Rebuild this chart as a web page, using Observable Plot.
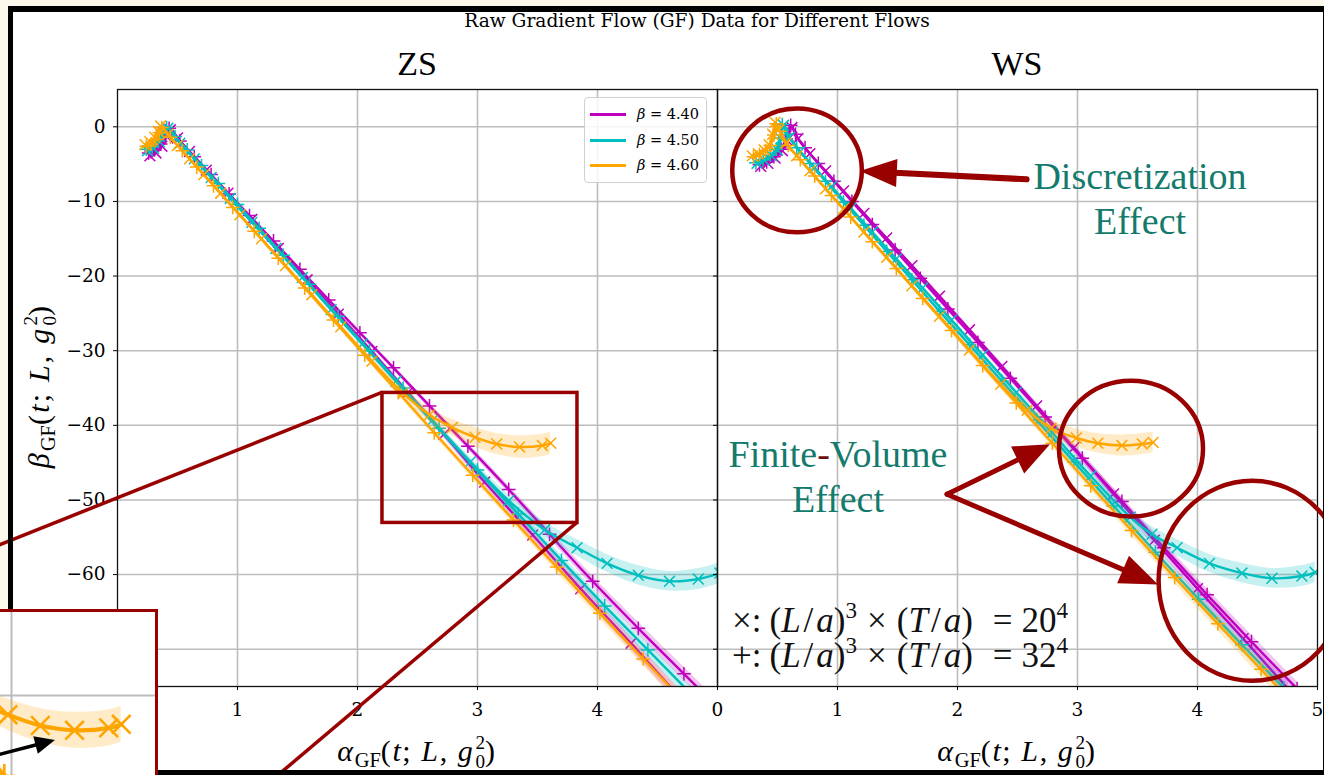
<!DOCTYPE html>
<html><head><meta charset="utf-8">
<script src="https://cdn.jsdelivr.net/npm/d3@7"></script>
<script src="https://cdn.jsdelivr.net/npm/@observablehq/plot@0.6"></script>
<style>
html,body{margin:0;padding:0;background:#fdf8ec;}
#page{position:relative;width:1324px;height:775px;overflow:hidden;background:#fdf8ec;}
#bg{position:absolute;left:8px;top:6px;width:1320px;height:769px;background:#fff;z-index:0;}
#border{position:absolute;left:8px;top:6px;width:1320px;height:769px;box-sizing:border-box;border:5px solid #000;border-top-width:6px;z-index:6;pointer-events:none;}
.txt{position:absolute;white-space:nowrap;line-height:1;z-index:4;color:#000;}
.serif{font-family:"Liberation Serif",serif;}
.m{letter-spacing:1.6px;}
.m .sb{font-size:0.68em;position:relative;top:0.26em;letter-spacing:0;}
.m .ss{display:inline-block;vertical-align:-0.36em;font-size:0.64em;line-height:1;margin-left:1px;letter-spacing:0;}
.m .ss span{display:block;}
#legend{position:absolute;left:584px;top:97px;width:123px;height:86px;box-sizing:border-box;border:1px solid #d0d0d0;border-radius:4px;background:rgba(255,255,255,0.85);z-index:4;font-family:"DejaVu Serif",serif;font-size:14.5px;}
.lrow{position:absolute;left:0;height:20px;width:120px;}
.lline{position:absolute;left:5px;width:36px;height:3px;top:9px;}
.ltext{position:absolute;left:52px;top:2px;white-space:nowrap;}
#inset{position:absolute;left:-20px;top:609px;width:178px;height:200px;box-sizing:border-box;border:3px solid #990000;background:#fff;z-index:8;overflow:hidden;}
</style></head><body>
<div id="page">
 <div id="bg"></div>
 <div id="border"></div>
 <div class="txt" id="title" style="left:697px;top:12px;transform:translateX(-50%);font-family:'DejaVu Serif',serif;font-size:18.6px;">Raw Gradient Flow (GF) Data for Different Flows</div>
 <div class="txt serif m" style="left:40px;top:386px;transform:translate(-50%,-50%) rotate(-90deg);font-size:30px;letter-spacing:2.2px;"><i>β</i><span class="sb">GF</span>(<i>t</i>; <i>L</i>, <i>g</i><span class="ss"><span>2</span><span>0</span></span>)</div>
 <div class="txt serif m" style="left:417px;top:733px;transform:translateX(-50%);font-size:30px;"><i>α</i><span class="sb">GF</span>(<i>t</i>; <i>L</i>, <i>g</i><span class="ss"><span>2</span><span>0</span></span>)</div>
 <div class="txt serif m" style="left:1017px;top:733px;transform:translateX(-50%);font-size:30px;"><i>α</i><span class="sb">GF</span>(<i>t</i>; <i>L</i>, <i>g</i><span class="ss"><span>2</span><span>0</span></span>)</div>
 <div id="legend"></div>
 <div id="inset"></div>
</div>
<script>
// ---------- data ----------
const panels = ["ZS", "WS"];
const betas = ["4.40", "4.50", "4.60"];
const volumes = ["20^4", "32^4"];
const xTicks = [0, 1, 2, 3, 4, 5];
const yTicks = [-70, -60, -50, -40, -30, -20, -10, 0];

// each point: [alpha_GF, beta_GF, error]
const zs_440_L20 = [[0.27,-3.9,0.1],[0.32,-3.5,0.1],[0.37,-2.6,0.1],[0.41,-1.3,0.1],[0.44,-0.4,0.1],[0.50,-1.5,0.1],[0.60,-3.3,0.1],[0.74,-5.8,0.15],[0.92,-8.9,0.15],[1.12,-12.4,0.2],[1.34,-16.3,0.2],[1.58,-20.5,0.25],[1.84,-25.1,0.3],[2.12,-30.1,0.35],[2.42,-35.6,0.4],[2.72,-41.2,0.5],[3.06,-47.6,0.6],[3.46,-54.7,0.7],[3.86,-61.9,0.8],[4.28,-69.2,0.9],[4.66,-76.0,1.0]];
const zs_440_L32 = [[0.26,-3.5,0.1],[0.31,-3.1,0.1],[0.36,-2.3,0.1],[0.40,-1.1,0.1],[0.43,-0.2,0.1],[0.52,-1.9,0.1],[0.64,-4.0,0.1],[0.78,-6.4,0.15],[0.93,-9.0,0.15],[1.10,-11.9,0.2],[1.30,-15.3,0.2],[1.52,-19.1,0.25],[1.76,-23.2,0.3],[2.02,-27.6,0.3],[2.30,-32.3,0.35],[2.60,-37.4,0.4],[2.92,-42.8,0.45],[3.26,-48.6,0.5],[3.60,-54.6,0.6],[3.96,-60.9,0.7],[4.34,-67.2,0.8],[4.72,-73.3,0.9],[5.05,-78.6,1.0]];
const zs_450_L20 = [[0.25,-3.2,0.1],[0.30,-2.9,0.1],[0.35,-2.0,0.1],[0.39,-0.8,0.1],[0.42,-0.2,0.1],[0.52,-2.2,0.1],[0.64,-4.3,0.1],[0.78,-6.8,0.15],[0.94,-9.6,0.15],[1.12,-12.8,0.2],[1.32,-16.3,0.2],[1.54,-20.2,0.25],[1.78,-24.5,0.3],[2.04,-29.1,0.35],[2.32,-34.1,0.4],[2.62,-39.4,0.5],[2.94,-44.9,0.6],[3.26,-50.1,0.8],[3.56,-54.0,1.0],[3.83,-56.4,1.1],[4.08,-58.5,1.2],[4.34,-60.1,1.3],[4.60,-60.9,1.3],[4.84,-60.6,1.4],[5.02,-59.8,1.4]];
const zs_450_L32 = [[0.24,-3.0,0.1],[0.29,-2.7,0.1],[0.34,-1.9,0.1],[0.38,-0.7,0.1],[0.41,-0.1,0.1],[0.48,-1.3,0.1],[0.58,-3.1,0.1],[0.70,-5.2,0.15],[0.84,-7.6,0.15],[1.00,-10.4,0.2],[1.18,-13.6,0.2],[1.38,-17.2,0.25],[1.60,-21.1,0.3],[1.84,-25.4,0.3],[2.10,-30.0,0.35],[2.38,-35.0,0.4],[2.68,-40.4,0.45],[3.00,-46.0,0.5],[3.34,-51.9,0.6],[3.70,-58.1,0.7],[4.06,-64.2,0.8],[4.42,-70.1,0.9],[4.78,-76.0,1.0]];
const zs_460_L20 = [[0.23,-2.4,0.1],[0.27,-2.0,0.1],[0.31,-1.4,0.1],[0.34,-0.6,0.1],[0.36,0.1,0.1],[0.42,-1.0,0.1],[0.50,-2.5,0.1],[0.60,-4.3,0.15],[0.72,-6.4,0.15],[0.86,-8.9,0.2],[1.02,-11.8,0.2],[1.20,-15.0,0.25],[1.40,-18.6,0.3],[1.62,-22.5,0.35],[1.86,-26.8,0.4],[2.12,-31.4,0.5],[2.38,-35.7,0.7],[2.60,-38.6,0.9],[2.79,-40.3,1.1],[2.98,-41.6,1.3],[3.16,-42.5,1.4],[3.35,-42.9,1.5],[3.54,-42.7,1.5],[3.61,-42.4,1.5]];
const zs_460_L32 = [[0.24,-2.6,0.1],[0.28,-2.3,0.1],[0.32,-1.7,0.1],[0.35,-0.8,0.1],[0.37,-0.1,0.1],[0.44,-1.4,0.1],[0.54,-3.2,0.1],[0.66,-5.4,0.15],[0.80,-7.9,0.15],[0.96,-10.8,0.2],[1.14,-14.0,0.2],[1.34,-17.6,0.25],[1.56,-21.6,0.3],[1.80,-25.9,0.3],[2.06,-30.6,0.35],[2.34,-35.6,0.4],[2.64,-41.0,0.45],[2.96,-46.7,0.5],[3.30,-52.7,0.6],[3.66,-59.0,0.7],[4.02,-65.2,0.8],[4.38,-71.3,0.9],[4.72,-77.0,1.0]];

const ws_440_L20 = [[0.36,-5.3,0.1],[0.42,-4.9,0.1],[0.48,-4.2,0.1],[0.54,-3.2,0.1],[0.58,-1.8,0.1],[0.62,-0.1,0.1],[0.67,-1.6,0.1],[0.77,-3.6,0.1],[0.90,-5.9,0.15],[1.05,-8.6,0.15],[1.22,-11.6,0.2],[1.41,-14.9,0.2],[1.62,-18.6,0.25],[1.85,-22.7,0.3],[2.10,-27.2,0.35],[2.37,-32.1,0.4],[2.66,-37.4,0.5],[2.97,-43.0,0.6],[3.30,-49.2,0.7],[3.64,-55.4,0.8],[4.00,-61.9,0.9],[4.38,-68.6,1.0],[4.76,-75.4,1.1]];
const ws_440_L32 = [[0.35,-5.1,0.1],[0.41,-4.7,0.1],[0.47,-4.0,0.1],[0.53,-3.0,0.1],[0.57,-1.6,0.1],[0.61,0.2,0.1],[0.65,-1.0,0.1],[0.73,-2.8,0.1],[0.84,-4.9,0.15],[0.97,-7.3,0.15],[1.12,-10.0,0.2],[1.29,-13.1,0.2],[1.48,-16.5,0.25],[1.69,-20.3,0.3],[1.92,-24.4,0.3],[2.17,-28.9,0.35],[2.44,-33.7,0.4],[2.73,-38.9,0.45],[3.04,-44.4,0.5],[3.37,-50.2,0.6],[3.72,-56.4,0.7],[4.08,-62.7,0.8],[4.45,-69.0,0.9],[4.83,-75.3,1.0]];
const ws_450_L20 = [[0.33,-4.9,0.1],[0.39,-4.5,0.1],[0.45,-3.9,0.1],[0.50,-3.1,0.1],[0.53,-1.6,0.1],[0.55,0.2,0.1],[0.60,-1.4,0.1],[0.69,-3.3,0.1],[0.81,-5.5,0.15],[0.95,-8.0,0.15],[1.11,-10.9,0.2],[1.29,-14.1,0.2],[1.49,-17.7,0.25],[1.71,-21.6,0.3],[1.95,-25.9,0.35],[2.21,-30.6,0.4],[2.49,-35.6,0.5],[2.79,-41.0,0.6],[3.11,-46.8,0.7],[3.44,-52.3,0.9],[3.62,-54.6,1.0],[3.83,-56.4,1.1],[4.10,-58.5,1.2],[4.37,-59.8,1.3],[4.62,-60.5,1.3],[4.87,-60.2,1.4],[4.98,-59.7,1.4]];
const ws_450_L32 = [[0.32,-4.8,0.1],[0.38,-4.4,0.1],[0.44,-3.8,0.1],[0.49,-3.0,0.1],[0.52,-1.5,0.1],[0.54,0.3,0.1],[0.58,-1.0,0.1],[0.66,-2.8,0.1],[0.77,-4.9,0.15],[0.90,-7.3,0.15],[1.05,-10.1,0.2],[1.22,-13.2,0.2],[1.41,-16.7,0.25],[1.62,-20.5,0.3],[1.85,-24.7,0.3],[2.10,-29.2,0.35],[2.37,-34.1,0.4],[2.66,-39.3,0.45],[2.97,-44.9,0.5],[3.30,-50.8,0.6],[3.65,-57.0,0.7],[4.01,-63.3,0.8],[4.37,-69.4,0.9],[4.72,-75.2,1.0]];
const ws_460_L20 = [[0.29,-3.9,0.1],[0.34,-3.6,0.1],[0.39,-3.1,0.1],[0.43,-2.4,0.1],[0.46,-1.0,0.1],[0.48,0.6,0.1],[0.51,-0.4,0.1],[0.57,-2.2,0.1],[0.66,-3.9,0.15],[0.77,-5.9,0.15],[0.90,-8.3,0.2],[1.05,-11.0,0.2],[1.22,-14.1,0.25],[1.41,-17.5,0.3],[1.62,-21.3,0.35],[1.85,-25.4,0.4],[2.10,-29.9,0.5],[2.36,-34.5,0.6],[2.58,-38.0,0.8],[2.78,-40.4,1.0],[2.99,-41.7,1.2],[3.17,-42.4,1.3],[3.37,-42.7,1.4],[3.54,-42.5,1.4],[3.63,-42.3,1.4]];
const ws_460_L32 = [[0.30,-4.0,0.1],[0.35,-3.7,0.1],[0.40,-3.2,0.1],[0.44,-2.5,0.1],[0.47,-1.1,0.1],[0.49,0.4,0.1],[0.52,-0.6,0.1],[0.59,-2.5,0.1],[0.69,-4.4,0.15],[0.81,-6.6,0.15],[0.95,-9.2,0.2],[1.11,-12.1,0.2],[1.29,-15.4,0.25],[1.49,-19.0,0.3],[1.71,-23.0,0.3],[1.95,-27.3,0.35],[2.21,-32.0,0.4],[2.49,-37.0,0.45],[2.79,-42.4,0.5],[3.11,-48.1,0.6],[3.45,-54.1,0.7],[3.81,-60.4,0.8],[4.17,-66.6,0.9],[4.53,-72.7,1.0],[4.75,-76.5,1.0]];

// ---------- styles ----------
const colorOf = {"4.40": "#bf00bf", "4.50": "#00bfbf", "4.60": "#ffa500"};
const symbolOf = {"20^4": "times", "32^4": "plus"};
const RED = "#990000", TEAL = "#137a6c", GRID = "#bdbdbd";

const series = {
  ZS: [["4.40","20^4",zs_440_L20],["4.40","32^4",zs_440_L32],["4.50","20^4",zs_450_L20],["4.50","32^4",zs_450_L32],["4.60","20^4",zs_460_L20],["4.60","32^4",zs_460_L32]],
  WS: [["4.40","20^4",ws_440_L20],["4.40","32^4",ws_440_L32],["4.50","20^4",ws_450_L20],["4.50","32^4",ws_450_L32],["4.60","20^4",ws_460_L20],["4.60","32^4",ws_460_L32]]
};

const fmt = d => d < 0 ? "\u2212" + Math.abs(d) : String(d);
const page = document.getElementById("page");

function seriesMarks(list, k) {
  const m = [];
  for (const [beta, vol, data] of list) {
    const c = colorOf[beta], sym = symbolOf[vol];
    m.push(Plot.areaY(data, {x: d => d[0], y1: d => d[1] - d[2], y2: d => d[1] + d[2], fill: c, fillOpacity: 0.22, curve: "catmull-rom", clip: true}));
    m.push(Plot.line(data, {x: d => d[0], y: d => d[1], stroke: c, strokeWidth: 2.4 * k, curve: "catmull-rom", clip: true}));
    m.push(Plot.dot(data, {x: d => d[0], y: d => d[1], symbol: sym, r: (sym === "times" ? 5 : 4.5) * k, stroke: c, fill: "none", strokeWidth: 1.5 * k, clip: true}));
  }
  return m;
}

function makePanel(name, left, width, mL, mR, xLabels, yLabels, z) {
  const plot = Plot.plot({
    width, height: 775, marginLeft: mL, marginRight: mR, marginTop: 89, marginBottom: 89,
    x: {domain: [0, 5]}, y: {domain: [-75, 5]},
    style: {background: "transparent", overflow: "visible", fontFamily: "DejaVu Serif, serif", fontSize: "18.5px", color: "#000"},
    marks: [
      Plot.gridX({ticks: [1, 2, 3, 4], stroke: GRID, strokeOpacity: 1, strokeWidth: 1.6}),
      Plot.gridY({ticks: yTicks, stroke: GRID, strokeOpacity: 1, strokeWidth: 1.6}),
      ...seriesMarks(series[name], 1),
      Plot.frame({stroke: "#111", strokeWidth: 1.3}),
      Plot.axisX({ticks: xLabels, tickSize: 4, tickPadding: 12, label: null, tickFormat: fmt}),
      Plot.axisY({ticks: yTicks, tickSize: 4, tickPadding: 8, label: null, tickFormat: yLabels ? fmt : () => ""})
    ]
  });
  plot.style.position = "absolute";
  plot.style.left = left + "px";
  plot.style.top = "0px";
  plot.style.zIndex = z;
  page.appendChild(plot);
  const t = document.createElement("div");
  t.className = "txt serif";
  t.textContent = name;
  const sx = plot.scale("x");
  t.style.cssText = `left:${left + (sx.apply(0) + sx.apply(5)) / 2}px;top:47px;transform:translateX(-50%);font-size:34px;`;
  page.appendChild(t);
  return plot;
}

function annot(plot) {
  const sx = plot.scale("x"), sy = plot.scale("y");
  return {g: d3.select(plot).append("g"), X: v => sx.apply(v), Y: v => sy.apply(v)};
}
function arrow(g, x1, y1, x2, y2, color, w, hl, hw) {
  const dx = x2 - x1, dy = y2 - y1, L = Math.hypot(dx, dy), ux = dx / L, uy = dy / L;
  const bx = x2 - ux * hl, by = y2 - uy * hl;
  g.append("line").attr("x1", x1).attr("y1", y1).attr("x2", bx + ux * 2).attr("y2", by + uy * 2)
    .attr("stroke", color).attr("stroke-width", w).attr("stroke-linecap", "round");
  g.append("path").attr("d", `M${x2},${y2}L${bx - uy * hw},${by + ux * hw}L${bx + uy * hw},${by - ux * hw}Z`).attr("fill", color);
}
// parts: [text, style, dx]
function rich(g, x, y, parts, attrs, supShift = 12) {
  const t = g.append("text").attr("x", x).attr("y", y).attr("text-anchor", "start");
  for (const k in attrs) t.attr(k, attrs[k]);
  let shift = 0;
  for (const [s, st, dx] of parts) {
    const ts = t.append("tspan").text(s);
    if (dx) ts.attr("dx", dx);
    if (st === "i") ts.attr("font-style", "italic");
    if (st === "sup") { ts.attr("font-size", "0.66em").attr("dy", -supShift - shift); shift = -supShift; }
    else if (shift) { ts.attr("dy", -shift); shift = 0; }
  }
  return t;
}

const zs = makePanel("ZS", 0, 717, 117, 0, [0, 1, 2, 3, 4], true, 1);
const ws = makePanel("WS", 697, 627, 20, 7, xTicks, false, 2);

// ZS annotations: zoom box and connector lines
{
  const {g, X, Y} = annot(zs);
  g.append("rect").attr("x", X(2.208)).attr("y", Y(-35.66)).attr("width", X(3.833) - X(2.208)).attr("height", Y(-53.08) - Y(-35.66))
    .attr("fill", "none").attr("stroke", RED).attr("stroke-width", 3.5);
  g.append("line").attr("x1", X(2.208)).attr("y1", Y(-35.66)).attr("x2", X(-1.0)).attr("y2", Y(-56.2)).attr("stroke", RED).attr("stroke-width", 3.5);
  g.append("line").attr("x1", X(3.833)).attr("y1", Y(-53.08)).attr("x2", X(1.30)).attr("y2", Y(-87.5)).attr("stroke", RED).attr("stroke-width", 3.5);
}

// WS annotations
{
  const {g, X, Y} = annot(ws);
  const ell = (a, b, ra, rb) => g.append("ellipse").attr("cx", X(a)).attr("cy", Y(b)).attr("rx", X(a + ra) - X(a)).attr("ry", Y(b - rb) - Y(b))
    .attr("fill", "none").attr("stroke", RED).attr("stroke-width", 4.5);
  ell(0.667, -5.9, 0.54, 8.3);
  ell(3.45, -43.2, 0.6, 9.1);
  ell(4.46, -60.9, 0.78, 13.4);
  arrow(g, X(2.58), Y(-7.1), X(1.19), Y(-6.0), RED, 6, 37, 14);
  arrow(g, X(1.917), Y(-49.3), X(2.775), Y(-42.6), RED, 5, 36, 15);
  arrow(g, X(1.917), Y(-49.3), X(3.675), Y(-61.4), RED, 5, 38, 15);
  const big = {"font-family": "Liberation Serif, serif", "font-size": 38, fill: TEAL, "text-anchor": "middle"};
  rich(g, X(3.525), Y(-8.45), [["Discretization", ""]], big);
  rich(g, X(3.525), Y(-14.4), [["Effect", ""]], big);
  const fv = rich(g, X(1.008), Y(-45.7), [["Finite", ""]], big);
  fv.append("tspan").text("-").attr("fill", "#6b0f0f");
  fv.append("tspan").text("Volume");
  rich(g, X(1.008), Y(-51.7), [["Effect", ""]], big);
  const vs = {"font-family": "Liberation Serif, serif", "font-size": 35, fill: "#111"};
  const vol = (lead, n) => [[lead + ":", ""], ["(", "", 8], ["L", "i"], ["/", "", 3], ["a", "i", 3], [")", ""], ["3", "sup"], ["×", "", 10], ["(", "", 10], ["T", "i"], ["/", "", 3], ["a", "i", 3], [")", ""], ["=", "", 20], [n, "", 9], ["4", "sup"]];
  rich(g, X(0.125), Y(-67.7), vol("×", "20"), vs, 14);
  rich(g, X(0.125), Y(-72.5), vol("+", "32"), vs, 14);
}

// legend
{
  const lg = document.getElementById("legend");
  betas.forEach((b, i) => {
    const row = document.createElement("div");
    row.className = "lrow";
    row.style.top = (6 + i * 25.5) + "px";
    row.innerHTML = `<div class="lline" style="background:${colorOf[b]}"></div><div class="ltext"><i>β</i> = ${b}</div>`;
    lg.appendChild(row);
  });
}

// zoomed inset (view of the ZS box region)
{
  const insetSeries = series.ZS.filter(s => s[0] === "4.60");
  const inset = Plot.plot({
    width: 172, height: 194, margin: 0,
    x: {domain: [2.8444, 3.8], axis: null}, y: {domain: [-49.25, -33.083], axis: null},
    style: {background: "#fff", overflow: "hidden", display: "block"},
    marks: [
      Plot.gridX({ticks: [3], stroke: GRID, strokeOpacity: 1, strokeWidth: 2}),
      Plot.gridY({ticks: [-40], stroke: GRID, strokeOpacity: 1, strokeWidth: 2}),
      ...seriesMarks(insetSeries, 1.7)
    ]
  });
  document.getElementById("inset").appendChild(inset);
  const {g, X, Y} = annot(inset);
  arrow(g, X(2.844), Y(-45.3), X(3.244), Y(-43.75), "#000", 3.5, 20, 9);
}
</script>
</body></html>
